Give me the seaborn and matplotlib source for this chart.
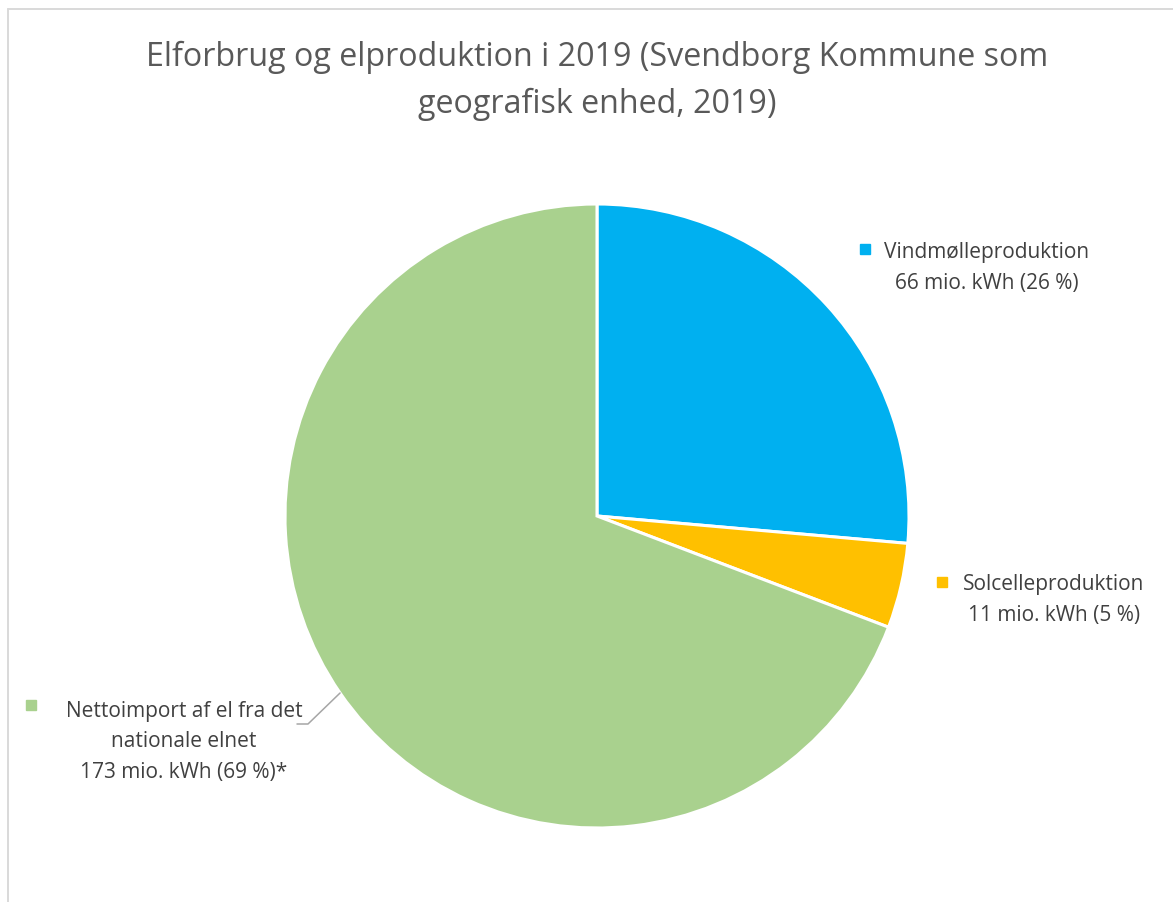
import matplotlib.pyplot as plt
import seaborn as sns
import numpy as np
from matplotlib.lines import Line2D

# --- style ---
sns.set_style("white")
plt.rcParams['font.family'] = ['Open Sans', 'DejaVu Sans']

# --- data ---
categories = ['Vindmølleproduktion', 'Solcelleproduktion',
              'Nettoimport af el fra det\nnationale elnet']
values = [66, 11, 173]           # mio. kWh
pct_labels = ['26 %', '5 %', '69 %']
suffix = ['', '', '*']
colors = ['#00B0F0', '#FFC000', '#A9D18E']
title = "Elforbrug og elproduktion i 2019 (Svendborg Kommune som\ngeografisk enhed, 2019)"

W, H = 1173, 903
fig = plt.figure(figsize=(W / 100, H / 100), dpi=100)

# pie axes: centre (597, 517) px, radius 312 px
cx, cy, r = 597, 517, 312
ax = fig.add_axes([(cx - r) / W, 1 - (cy + r) / H, 2 * r / W, 2 * r / H])
wedges, _ = ax.pie(values, colors=colors, startangle=90, counterclock=False,
                   radius=1, wedgeprops=dict(edgecolor='white', linewidth=2.2))
ax.set_xlim(-1, 1)
ax.set_ylim(-1, 1)
ax.set_aspect('equal')
ax.axis('off')


def px(x, y):
    # pixel position -> pie data coords
    return (x - cx) / r, (cy - y) / r


# label positions (text centre of block) and legend-key positions, in px
label_pos = [(987, 268), (1054, 600), (184, 742)]
key_pos = [(865, 250), (942, 583), (31, 706)]

for i, cat in enumerate(categories):
    txt = f"{cat}\n{values[i]} mio. kWh ({pct_labels[i]}){suffix[i]}"
    tx, ty = px(*label_pos[i])
    ax.text(tx, ty, txt, ha='center', va='center', fontsize=15,
            color='#404040', linespacing=1.62, clip_on=False)
    kx, ky = px(*key_pos[i])
    ax.plot(kx, ky, marker='s', markersize=7, color=colors[i],
            linestyle='none', clip_on=False)

# leader line for the import wedge
w = wedges[2]
mid = np.deg2rad((w.theta1 + w.theta2) / 2)
ex, ey = np.cos(mid), np.sin(mid)
bx, by = px(308, 725)
hx, hy = px(297, 725)
ax.plot([ex, bx, hx], [ey, by, hy], color='#A6A6A6', lw=1.1, clip_on=False)

# title
fig.text(597 / W, 1 - 81 / H, title, ha='center', va='center', fontsize=23.2,
         color='#595959', linespacing=1.52)

# chart-area border (top and left visible)
bx0, by0 = 8 / W, 1 - 9.5 / H
fig.add_artist(Line2D([bx0, bx0], [0, by0], color='#D9D9D9', lw=1.4,
                      transform=fig.transFigure))
fig.add_artist(Line2D([bx0, 1], [by0, by0], color='#D9D9D9', lw=1.4,
                      transform=fig.transFigure))

fig.savefig('out.png', dpi=100)
